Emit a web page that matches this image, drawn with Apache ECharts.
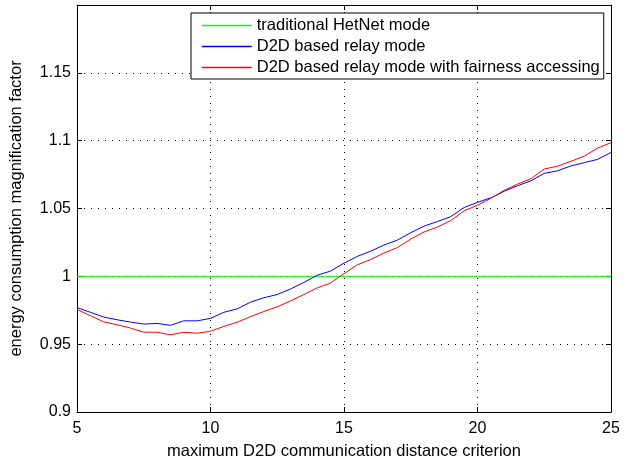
<!DOCTYPE html>
<html>
<head>
<meta charset="utf-8">
<script src="https://cdn.jsdelivr.net/npm/echarts@6/dist/echarts.min.js"></script>
<style>html,body{margin:0;padding:0;background:#fff;}#c{width:631px;height:465px;}</style>
</head>
<body>
<div id="c"></div>
<script>
const xValues = [5,5.5,6,6.5,7,7.5,8,8.5,9,9.5,10,10.5,11,11.5,12,12.5,13,13.5,14,14.5,15,15.5,16,16.5,17,17.5,18,18.5,19,19.5,20,20.5,21,21.5,22,22.5,23,23.5,24,24.5,25];
const traditional = [1.0, 1.0];
const traditionalX = [5, 25];
const relay = [0.977,0.9735,0.970,0.968,0.9663,0.9648,0.9653,0.9639,0.9672,0.9672,0.969,0.9735,0.976,0.981,0.9842,0.9866,0.9907,0.9955,1.0008,1.0039,1.0097,1.0147,1.0185,1.0231,1.0267,1.0322,1.037,1.0404,1.044,1.0507,1.0545,1.0579,1.0627,1.0668,1.0704,1.0759,1.0778,1.0814,1.0838,1.0862,1.0913];
const fairness = [0.9756,0.971,0.9665,0.9643,0.9619,0.9588,0.9588,0.9569,0.9588,0.9581,0.9595,0.9631,0.9662,0.9703,0.9741,0.9775,0.9819,0.9866,0.9915,0.9951,1.002,1.0085,1.0124,1.0172,1.0212,1.0275,1.0327,1.0363,1.0411,1.0483,1.0524,1.0575,1.0634,1.068,1.0719,1.0791,1.0812,1.0848,1.0886,1.0946,1.0985];
const seriesNames = ['traditional HetNet mode','D2D based relay mode','D2D based relay mode with fairness accessing'];
const seriesColors = ['#00ff00','#0000ff','#ff0000'];
const xName = 'maximum D2D communication distance criterion';
const yName = 'energy consumption magnification factor';

const font = 'Liberation Sans, Arial, Helvetica, sans-serif';
const chart = echarts.init(document.getElementById('c'));
const dotted = {show:true, lineStyle:{color:'#000', width:1, type:[1,6]}};
const axisLineBlack = {show:true, onZero:false, lineStyle:{color:'#000', width:1}};
const tickIn = {show:true, inside:true, length:5, lineStyle:{color:'#000'}};
chart.setOption({
  animation:false,
  backgroundColor:'#fff',
  grid:{left:74, right:20, top:5, bottom:44, containLabel:false},
  legend:{
    orient:'vertical', left:191, top:13,
    data:seriesNames,
    backgroundColor:'#fff', borderColor:'#000', borderWidth:1, borderRadius:0,
    padding:[3,4,2,10], itemGap:2, itemWidth:50, itemHeight:14,
    itemStyle:{opacity:0},
    lineStyle:{width:1.5},
    textStyle:{fontFamily:font, fontSize:16.5, lineHeight:19, color:'#000'}
  },
  xAxis:[{
    type:'value', min:5, max:25, interval:5,
    name:xName, nameLocation:'middle', nameGap:31,
    nameTextStyle:{fontFamily:font, fontSize:16.5, color:'#000'},
    axisLine:axisLineBlack, axisTick:tickIn, splitLine:dotted,
    axisLabel:{fontFamily:font, fontSize:16, color:'#000', margin:9}
  },{
    type:'value', min:5, max:25, interval:5, position:'top',
    axisLine:axisLineBlack, axisTick:tickIn, splitLine:{show:false}, axisLabel:{show:false}
  }],
  yAxis:[{
    type:'value', min:0.9, max:1.2, interval:0.05,
    name:yName, nameLocation:'middle', nameGap:52,
    nameTextStyle:{fontFamily:font, fontSize:16.5, color:'#000'},
    axisLine:axisLineBlack, axisTick:tickIn, splitLine:dotted,
    axisLabel:{fontFamily:font, fontSize:16, color:'#000', margin:6,
      formatter:v => v > 1.19 ? '' : String(+v.toFixed(2))}
  },{
    type:'value', min:0.9, max:1.2, interval:0.05, position:'right',
    axisLine:axisLineBlack, axisTick:tickIn, splitLine:{show:false}, axisLabel:{show:false}
  }],
  series:[
    {name:seriesNames[0], type:'line', symbol:'none', data:traditionalX.map((x,i)=>[x,traditional[i]]), lineStyle:{color:seriesColors[0], width:1}, itemStyle:{color:seriesColors[0]}},
    {name:seriesNames[1], type:'line', symbol:'none', data:xValues.map((x,i)=>[x,relay[i]]), lineStyle:{color:seriesColors[1], width:1}, itemStyle:{color:seriesColors[1]}},
    {name:seriesNames[2], type:'line', symbol:'none', data:xValues.map((x,i)=>[x,fairness[i]]), lineStyle:{color:seriesColors[2], width:1}, itemStyle:{color:seriesColors[2]}}
  ]
});
</script>
</body>
</html>
